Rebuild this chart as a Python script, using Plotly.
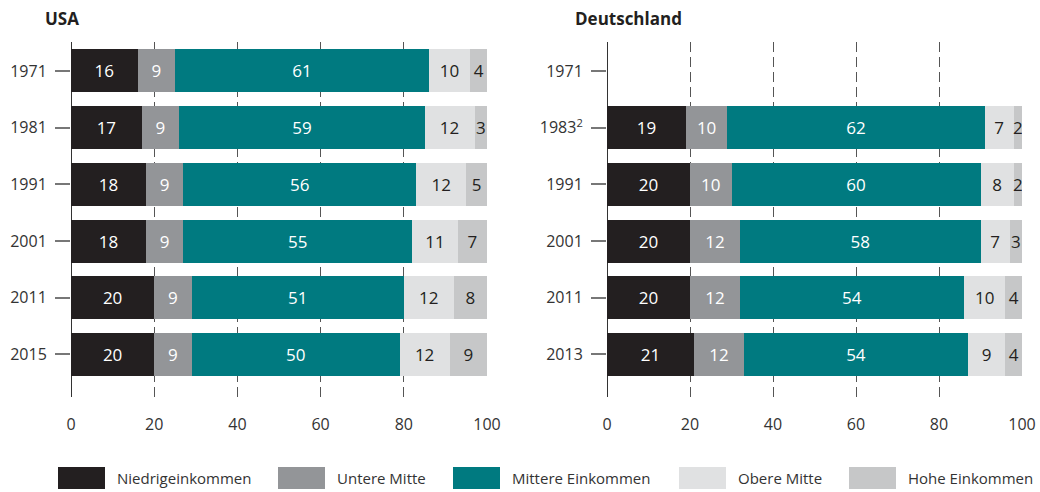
import plotly.graph_objects as go

# --- data ------------------------------------------------------------------ #

CATEGORIES = ["Niedrigeinkommen", "Untere Mitte", "Mittere Einkommen",
              "Obere Mitte", "Hohe Einkommen"]

USA_YEARS = ["1971", "1981", "1991", "2001", "2011", "2015"]
USA_LOW = [16, 17, 18, 18, 20, 20]
USA_LOWER_MID = [9, 9, 9, 9, 9, 9]
USA_MIDDLE = [61, 59, 56, 55, 51, 50]
USA_UPPER_MID = [10, 12, 12, 11, 12, 12]
USA_HIGH = [4, 3, 5, 7, 8, 9]

DE_YEARS = ["1971", "1983<sup>2</sup>", "1991", "2001", "2011", "2013"]
DE_LOW = [None, 19, 20, 20, 20, 21]
DE_LOWER_MID = [None, 10, 10, 12, 12, 12]
DE_MIDDLE = [None, 62, 60, 58, 54, 54]
DE_UPPER_MID = [None, 7, 8, 7, 10, 9]
DE_HIGH = [None, 2, 2, 3, 4, 4]

X_TICKS = [0, 20, 40, 60, 80, 100]

# --- style ----------------------------------------------------------------- #

FONT = "Open Sans"
INK = "#231f20"
TICK_INK = "#333333"
COLORS = ["#231f20", "#939598", "#007a80", "#e0e1e2", "#c6c7c8"]
TEXT_COLORS = ["#ffffff", "#ffffff", "#ffffff", INK, INK]

W, H = 1040, 492


def px_x(x):
    return x / W


def px_y(y):
    return 1 - y / H


fig = go.Figure()

panels = [
    ("x", "y", USA_YEARS, [USA_LOW, USA_LOWER_MID, USA_MIDDLE, USA_UPPER_MID, USA_HIGH]),
    ("x2", "y2", DE_YEARS, [DE_LOW, DE_LOWER_MID, DE_MIDDLE, DE_UPPER_MID, DE_HIGH]),
]

for xa, ya, years, series in panels:
    for name, vals, color, tcol in zip(CATEGORIES, series, COLORS, TEXT_COLORS):
        fig.add_trace(go.Bar(
            y=years, x=vals, orientation="h", name=name,
            xaxis=xa, yaxis=ya,
            marker=dict(color=color, line=dict(width=0)),
            text=["" if v is None else str(v) for v in vals],
            textposition="inside", insidetextanchor="middle",
            constraintext="none", textangle=0,
            textfont=dict(family=FONT, size=17, color=tcol),
            showlegend=False,
            hovertemplate="%{y}: %{x}<extra>" + name + "</extra>",
        ))

xaxis_common = dict(
    range=[0, 100], tickvals=X_TICKS, showgrid=True,
    gridcolor="#555555", gridwidth=1, griddash="10px,5px",
    zeroline=True, zerolinecolor="#333333", zerolinewidth=1,
    ticks="", ticklabelstandoff=16,
    tickfont=dict(family=FONT, size=16, color=TICK_INK),
    fixedrange=True,
)
yaxis_common = dict(
    type="category", range=[5.75, -0.51],
    domain=[px_y(397), px_y(42)],
    showgrid=False, zeroline=False, showline=False,
    ticks="outside", ticklen=15, tickwidth=1.5, tickcolor="#777777",
    ticklabelstandoff=5,
    tickfont=dict(family=FONT, size=16, color=TICK_INK),
    fixedrange=True,
)

fig.update_layout(
    width=W, height=H,
    margin=dict(l=0, r=0, t=0, b=0, autoexpand=False),
    paper_bgcolor="white", plot_bgcolor="white",
    barmode="stack", bargap=0.24,
    font=dict(family=FONT, color=TICK_INK, size=16),
    xaxis=dict(domain=[px_x(71), px_x(487)], anchor="y", **xaxis_common),
    xaxis2=dict(domain=[px_x(607), px_x(1022)], anchor="y2", **xaxis_common),
    yaxis=dict(anchor="x", **yaxis_common),
    yaxis2=dict(anchor="x2", **yaxis_common),
)

# panel titles
for text, x in [("USA", 43), ("Deutschland", 573)]:
    fig.add_annotation(
        text=f"<b>{text}</b>", xref="paper", yref="paper",
        x=px_x(x), y=px_y(18), xanchor="left", yanchor="middle",
        showarrow=False, font=dict(family=FONT, size=17, color=INK),
    )

# legend drawn by hand (large swatches)
legend_swatch_x = [58, 278, 453, 679, 849]
for name, color, sx in zip(CATEGORIES, COLORS, legend_swatch_x):
    fig.add_shape(
        type="rect", xref="paper", yref="paper",
        x0=px_x(sx), x1=px_x(sx + 47), y0=px_y(489), y1=px_y(467),
        fillcolor=color, line=dict(width=0),
    )
    fig.add_annotation(
        text=name, xref="paper", yref="paper",
        x=px_x(sx + 57), y=px_y(478), xanchor="left", yanchor="middle",
        showarrow=False, font=dict(family=FONT, size=15, color=TICK_INK),
    )

fig.write_html(
    "out.html",
    config={"displayModeBar": False},
    post_script="document.body.style.margin='0';document.body.style.overflow='hidden';",
)
